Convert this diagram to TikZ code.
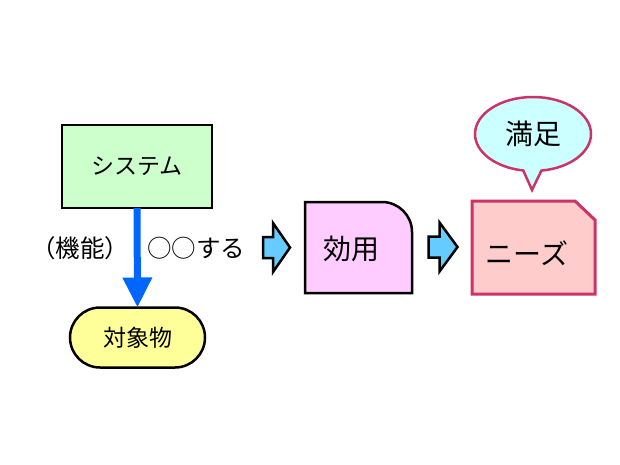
\documentclass[tikz,border=0pt]{standalone}
\usepackage{fontspec}
\setmainfont{Noto Sans CJK JP}
\usetikzlibrary{shapes.geometric,shapes.callouts,shapes.misc,arrows.meta}
\definecolor{sysgreen}{HTML}{CCFFCC}
\definecolor{objyellow}{HTML}{FFFF99}
\definecolor{koyopink}{HTML}{FFCCFF}
\definecolor{needsred}{HTML}{FFCCCC}
\definecolor{crimson}{HTML}{CC3366}
\definecolor{calloutcyan}{HTML}{CCFFFF}
\definecolor{arrowblue}{HTML}{0066FF}
\definecolor{blockblue}{HTML}{66CCFF}
\tikzset{
  txt/.style={font=\fontsize{23}{27}\selectfont, inner sep=0pt},
  labtxt/.style={font=\fontsize{24.5}{28}\selectfont, inner sep=0pt},
  bigtxt/.style={font=\fontsize{28}{32}\selectfont, inner sep=0pt},
  sysbox/.style={draw=black, line width=2.5pt, fill=sysgreen, minimum width=150, minimum height=83, inner sep=0pt, outer sep=0pt},
  objbox/.style={draw=black, line width=2.5pt, fill=objyellow, rounded rectangle, minimum width=135, minimum height=60, inner sep=0pt, outer sep=0pt},
  blockarrow/.style={draw=black, line width=2.5pt, fill=blockblue, line join=miter},
  funcarrow/.style={draw=arrowblue, line width=7pt, -{Triangle[width=28pt,length=30pt]}},
  area/.style={inner sep=0pt, outer sep=0pt, minimum width=#1},
}
\begin{document}
\begin{tikzpicture}[x=1pt,y=-1pt]
\useasboundingbox[fill=white] (0,0) rectangle (620,465);
% system
\node[sysbox, txt] (sys) at (137,166.5) {システム};
\node[objbox, txt] (obj) at (137.5,337.5) {対象物};
\draw[funcarrow] (sys.south) -- (obj.north);
\node[labtxt] (kino) at (80,248) {（機能）};
\node[labtxt] (suru) at (196,248) {○○する};
% block arrow 1
\coordinate (a1) at (276.5,247.5);
\draw[blockarrow] (a1) ++(-13.5,-10.5) -- ++(10,0) -- ++(0,-14) -- ++(17,24.5) -- ++(-17,24.5) -- ++(0,-14) -- ++(-10,0) -- cycle;
% koyo box
\node[area=107, minimum height=91] (koyo) at (358.5,247.5) {};
\draw[draw=black, line width=2.5pt, fill=koyopink, line join=miter]
  (koyo.south west) -- (koyo.north west) -- ([xshift=-30pt]koyo.north east)
  arc[start angle=-90, end angle=0, radius=30] -- (koyo.south east) -- cycle;
\node[bigtxt] (koyotxt) at (351,249) {効用};
% block arrow 2
\coordinate (a2) at (443,247);
\draw[blockarrow] (a2) ++(-14.5,-10.5) -- ++(11,0) -- ++(0,-14) -- ++(18,24.5) -- ++(-18,24.5) -- ++(0,-14) -- ++(-11,0) -- cycle;
% needs box
\node[area=123, minimum height=93] (needs) at (533.5,247.5) {};
\draw[draw=crimson, line width=3pt, fill=needsred, line join=miter]
  (needs.south west) -- (needs.north west) -- ([xshift=-20pt]needs.north east)
  -- ([yshift=-19pt]needs.north east) -- (needs.south east) -- cycle;
\node[bigtxt] (needstxt) at (527,253) {ニーズ};
% callout
\node[ellipse callout, draw=crimson, line width=2.5pt, fill=calloutcyan,
  minimum width=116, minimum height=74, inner sep=0pt,
  callout absolute pointer={(532,190)}, callout pointer arc=18, bigtxt]
  (manzoku) at (533,134) {満足};
\end{tikzpicture}
\end{document}
